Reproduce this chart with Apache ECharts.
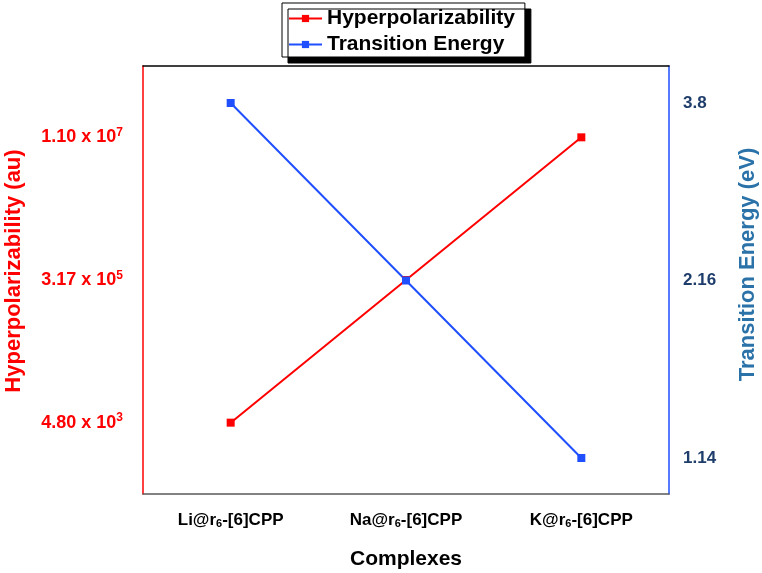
<!DOCTYPE html>
<html><head><meta charset="utf-8">
<script src="https://cdn.jsdelivr.net/npm/echarts@6/dist/echarts.min.js"></script>
<style>html,body{margin:0;padding:0;background:#fff}#c{width:762px;height:573px}</style>
</head><body><div id="c"></div>
<script>
const categories = ['Li@r6-[6]CPP', 'Na@r6-[6]CPP', 'K@r6-[6]CPP'];
const hyperTicks = [4.80e3, 3.17e5, 1.10e7];
const hyperValues = [4.80e3, 3.17e5, 1.10e7];
const energyTicks = [1.14, 2.16, 3.8];
const energyValues = [3.8, 2.16, 1.14];

const FONT = '"Liberation Sans", Arial, sans-serif';
const RED = '#ff0000', BLUE = '#1f4fff';

function sci(s) {
  const v = Number(s);
  const e = Math.floor(Math.log10(v) + 1e-9);
  const m = v / Math.pow(10, e);
  return m.toFixed(2) + ' x 10{sup|' + e + '}';
}

const chart = echarts.init(document.getElementById('c'));
chart.setOption({
  animation: false,
  backgroundColor: '#fff',
  legend: {
    data: ['Hyperpolarizability', 'Transition Energy'],
    orient: 'vertical',
    left: 282, top: 3,
    padding: [5, 10, 2, 6],
    itemGap: 5,
    itemWidth: 33, itemHeight: 9,
    backgroundColor: '#fff',
    borderColor: '#000', borderWidth: 1,
    shadowColor: '#000', shadowBlur: 0, shadowOffsetX: 6, shadowOffsetY: 6,
    textStyle: { fontFamily: FONT, fontWeight: 'bold', fontSize: 21, color: '#000' }
  },
  grid: [
    { left: 143, right: 93, top: 66, bottom: 79, outerBoundsMode: 'none', containLabel: false },
    { left: 143, right: 93, top: 103, bottom: 115, outerBoundsMode: 'none', containLabel: false }
  ],
  xAxis: [
    {
      gridIndex: 0, type: 'category', data: categories, boundaryGap: true, position: 'bottom',
      axisLine: { lineStyle: { color: '#595959', width: 1.5 } },
      axisTick: { show: false },
      axisLabel: {
        interval: 0, margin: 18, color: '#000', fontFamily: FONT, fontWeight: 'bold', fontSize: 17,
        formatter: v => v.replace('r6', 'r{sub|6}'),
        rich: { sub: { fontSize: 11, fontFamily: FONT, fontWeight: 'bold', color: '#000', verticalAlign: 'bottom', padding: [4, 0, 0, 0] } }
      },
      name: 'Complexes', nameLocation: 'middle', nameGap: 55,
      nameTextStyle: { color: '#000', fontFamily: FONT, fontWeight: 'bold', fontSize: 21 }
    },
    {
      gridIndex: 0, type: 'category', data: categories, position: 'top',
      axisLine: { lineStyle: { color: '#000', width: 1.5 } },
      axisTick: { show: false }, axisLabel: { show: false }
    },
    {
      gridIndex: 1, type: 'category', data: categories, boundaryGap: true, show: false
    }
  ],
  yAxis: [
    {
      gridIndex: 0, type: 'category', data: hyperTicks.map(String), boundaryGap: true, position: 'left',
      axisLine: { lineStyle: { color: RED, width: 1.5 } },
      axisTick: { show: false },
      splitLine: { show: false },
      axisLabel: {
        interval: 0, margin: 20, color: RED, fontFamily: FONT, fontWeight: 'bold', fontSize: 18,
        formatter: sci,
        rich: { sup: { fontSize: 12, fontFamily: FONT, fontWeight: 'bold', color: RED, verticalAlign: 'top', padding: [0, 0, 9, 0] } }
      },
      name: 'Hyperpolarizability (au)', nameLocation: 'middle', nameGap: 118,
      nameTextStyle: { color: RED, fontFamily: FONT, fontWeight: 'bold', fontSize: 22, padding: [0, 0, 0, 18] }
    },
    {
      gridIndex: 0, type: 'category', data: hyperTicks.map(String), position: 'right',
      axisLine: { lineStyle: { color: BLUE, width: 1.5 } },
      axisTick: { show: false }, axisLabel: { show: false }, splitLine: { show: false }
    },
    {
      gridIndex: 1, type: 'category', data: energyTicks.map(String), boundaryGap: false, position: 'right',
      axisLine: { show: false }, axisTick: { show: false }, splitLine: { show: false },
      axisLabel: { interval: 0, margin: 14, color: '#1f3d6b', fontFamily: FONT, fontWeight: 'bold', fontSize: 17 },
      name: 'Transition Energy (eV)', nameLocation: 'middle', nameGap: 68, nameRotate: 90,
      nameTextStyle: { color: '#2a72a8', fontFamily: FONT, fontWeight: 'bold', fontSize: 22, padding: [0, 0, 0, 32] }
    }
  ],
  series: [
    {
      name: 'Hyperpolarizability', type: 'line', xAxisIndex: 0, yAxisIndex: 0,
      data: categories.map((c, i) => [c, String(hyperValues[i])]),
      symbol: 'rect', symbolSize: 8,
      lineStyle: { color: RED, width: 2 }, itemStyle: { color: RED }
    },
    {
      name: 'Transition Energy', type: 'line', xAxisIndex: 2, yAxisIndex: 2,
      data: categories.map((c, i) => [c, String(energyValues[i])]),
      symbol: 'rect', symbolSize: 8,
      lineStyle: { color: BLUE, width: 2 }, itemStyle: { color: BLUE }
    }
  ]
});
</script></body></html>
